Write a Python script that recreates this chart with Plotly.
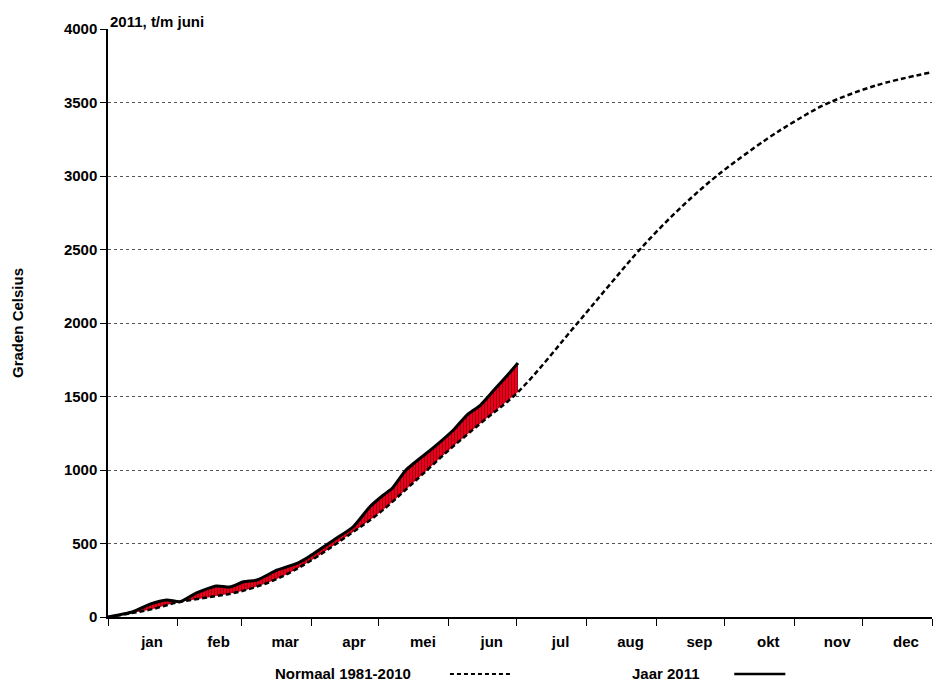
import plotly.graph_objects as go

# dag van het jaar en gemiddelde temperatuursom (normaal 1981-2010)
norm_days = [0, 10, 20, 31, 45, 59, 75, 90, 105, 120, 135, 151, 166, 181.6,
             208, 222, 235.6, 252, 269.6, 291.7, 304, 317.5, 340, 365]
norm_vals = [0, 25, 55, 100, 135, 175, 260, 385, 540, 705, 910, 1135, 1330, 1530,
             2000, 2256, 2500, 2760, 3000, 3250, 3370, 3485, 3615, 3706]

# jaar 2011 t/m juni
y2011_days = [0, 11, 18.6, 26, 32, 39, 48, 54, 60, 66, 75, 84, 89, 100, 108.6, 116,
              122, 126, 132, 144, 153, 159, 165, 171, 177, 181.6]
y2011_vals = [0, 36, 88, 116, 104, 163, 211, 204, 240, 252, 320, 367, 410, 524, 614, 750,
              830, 877, 1000, 1150, 1272, 1374, 1442, 1544, 1646, 1728]

months = ["jan", "feb", "mar", "apr", "mei", "jun", "jul", "aug", "sep", "okt", "nov", "dec"]
month_ends = [0, 31, 59, 90, 120, 151, 181, 212, 243, 273, 304, 334, 365]
month_mid = [(a + b) / 2 for a, b in zip(month_ends[:-1], month_ends[1:])]
y_ticks = list(range(0, 4001, 500))

font = dict(family="Liberation Sans", size=15, color="black")

n_cut = norm_days.index(181.6)
fig = go.Figure()
fig.add_trace(go.Scatter(x=norm_days[:n_cut + 1], y=norm_vals[:n_cut + 1], mode="lines",
                         line=dict(width=0, shape="spline"), showlegend=False, hoverinfo="skip"))
fig.add_trace(go.Scatter(x=y2011_days, y=y2011_vals, mode="lines", fill="tonexty",
                         fillcolor="#e8001c",
                         fillpattern=dict(shape="|", bgcolor="#e8001c", fgcolor="#300000",
                                          size=3, solidity=0.25),
                         line=dict(color="black", width=3, shape="spline", smoothing=0.6),
                         showlegend=False))
fig.add_trace(go.Scatter(x=norm_days, y=norm_vals, mode="lines",
                         line=dict(color="black", width=2.5, dash="5px,3px", shape="spline"),
                         showlegend=False))
fig.add_trace(go.Scatter(x=month_mid, y=[0] * 12, xaxis="x2", mode="markers",
                         marker=dict(opacity=0), showlegend=False, hoverinfo="skip"))

fig.update_layout(
    width=933, height=686, plot_bgcolor="white", paper_bgcolor="white",
    margin=dict(l=108, r=1, t=29, b=69, autoexpand=False), font=font,
    xaxis=dict(range=[0, 365], tickvals=month_ends, ticktext=[""] * 13, ticks="outside",
               ticklen=7, tickcolor="black", showgrid=False, showline=True,
               linecolor="black", linewidth=1.5, zeroline=False, automargin=False),
    xaxis2=dict(range=[0, 365], overlaying="x", side="bottom", tickvals=month_mid,
                ticktext=[f"<b>{m}</b>" for m in months], ticks="", showgrid=False,
                showline=False, zeroline=False, automargin=False,
                ticklabelshift=9, ticklabelstandoff=14,
                tickfont=dict(size=15, family="Liberation Sans")),
    yaxis=dict(range=[0, 4000], tickvals=y_ticks, ticktext=[f"<b>{v}</b>" for v in y_ticks],
               ticks="outside", ticklen=6, tickcolor="black", showline=True,
               linecolor="black", linewidth=1.5, automargin=False,
               gridcolor="#555555", griddash="dot", gridwidth=1, zeroline=False,
               tickfont=dict(size=15),
               title=dict(text="<b>Graden Celsius</b>", standoff=37, font=dict(size=15))),
)

fig.add_annotation(text="<b>2011, t/m juni</b>", xref="paper", yref="paper", x=0, y=1,
                   xanchor="left", yanchor="bottom", showarrow=False, font=font, yshift=-3)
fig.add_annotation(text="<b>Normaal 1981-2010</b>", xref="paper", yref="paper", x=0.2,
                   y=0, xanchor="left", yanchor="middle", showarrow=False, font=font,
                   yshift=-56)
fig.add_annotation(text="<b>Jaar 2011</b>", xref="paper", yref="paper", x=0.633,
                   y=0, xanchor="left", yanchor="middle", showarrow=False, font=font,
                   yshift=-56)
fig.add_shape(type="line", xref="paper", yref="paper", x0=0.415, x1=0.49,
              y0=-0.097, y1=-0.097, line=dict(color="black", width=2, dash="4px,3px"))
fig.add_shape(type="line", xref="paper", yref="paper", x0=0.76, x1=0.822,
              y0=-0.097, y1=-0.097, line=dict(color="black", width=2.5))

fig.write_html("out.html", config={"displayModeBar": False},
               post_script="document.body.style.margin='0';")
